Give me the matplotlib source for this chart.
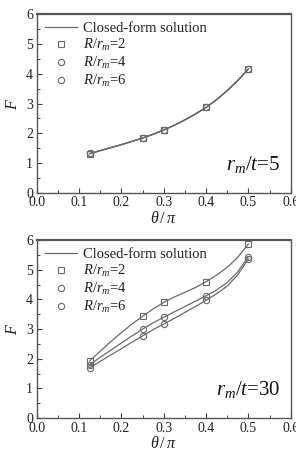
import matplotlib
matplotlib.use("Agg")
import matplotlib.pyplot as plt
from matplotlib.ticker import MultipleLocator

plt.rcParams['font.family'] = ['Liberation Serif', 'DejaVu Serif']
plt.rcParams['mathtext.fontset'] = 'custom'
plt.rcParams['mathtext.rm'] = 'Liberation Serif'
plt.rcParams['mathtext.it'] = 'Liberation Serif:italic'

# data points
theta = [0.125, 0.25, 0.3, 0.4, 0.5]
top_R2 = [1.32, 1.84, 2.11, 2.87, 4.16]
top_R4 = [1.33, 1.85, 2.12, 2.88, 4.15]
top_R6 = [1.33, 1.86, 2.12, 2.88, 4.15]
bot_R2 = [1.93, 3.43, 3.90, 4.60, 5.87]
bot_R4 = [1.80, 3.00, 3.40, 4.12, 5.44]
bot_R6 = [1.70, 2.77, 3.17, 3.97, 5.36]

# closed-form curves
theta_c = [0.125, 0.15, 0.175, 0.2, 0.225, 0.25, 0.275, 0.3, 0.325,
           0.35, 0.375, 0.4, 0.425, 0.45, 0.475, 0.5]
top_c = [1.32, 1.42, 1.52, 1.62, 1.73, 1.84, 1.97, 2.11, 2.27,
         2.45, 2.65, 2.87, 3.13, 3.43, 3.77, 4.16]
bot_c2 = [1.93, 2.25, 2.58, 2.88, 3.17, 3.43, 3.68, 3.90, 4.08,
          4.24, 4.40, 4.60, 4.82, 5.08, 5.42, 5.87]
bot_c4 = [1.80, 2.05, 2.29, 2.53, 2.77, 3.00, 3.21, 3.40, 3.58,
          3.76, 3.94, 4.12, 4.32, 4.57, 4.93, 5.44]
bot_c6 = [1.70, 1.91, 2.13, 2.34, 2.56, 2.77, 2.98, 3.17, 3.36,
          3.56, 3.76, 3.97, 4.19, 4.45, 4.83, 5.36]

xticks = [0.0, 0.1, 0.2, 0.3, 0.4, 0.5, 0.6]
yticks = [0, 1, 2, 3, 4, 5, 6]

fig = plt.figure(figsize=(2.96, 4.53), dpi=100)
ax1 = fig.add_axes([0.124, 0.574, 0.858, 0.395])
ax2 = fig.add_axes([0.124, 0.077, 0.858, 0.393])

gray = '#6a6a6a'
mk = dict(linestyle='none', markerfacecolor='none', markeredgecolor=gray,
          markersize=4.5, markeredgewidth=0.8)

def setup(ax, label):
    ax.set_xlim(0, 0.6)
    ax.set_ylim(0, 6)
    ax.set_xticks(xticks)
    ax.set_yticks(yticks)
    ax.set_xticklabels(['%.1f' % v for v in xticks])
    ax.xaxis.set_minor_locator(MultipleLocator(0.05))
    ax.yaxis.set_minor_locator(MultipleLocator(0.5))
    ax.tick_params(which='both', direction='in', color='#444444',
                   labelsize=10, labelcolor='#222222', pad=2.5)
    ax.tick_params(which='major', length=3.5, width=0.8)
    ax.tick_params(which='minor', length=2, width=0.7)
    for s in ax.spines.values():
        s.set_color('#555555')
        s.set_linewidth(1.0)
    ax.spines['top'].set_linewidth(1.6)
    ax.set_xlabel(r'$\theta\,/\,\pi$', fontsize=11.5, labelpad=1, color='#222222')
    ax.set_ylabel(r'$F$', fontsize=11.5, labelpad=4, color='#222222')
    ax.text(0.96, 0.13, label, transform=ax.transAxes, ha='right',
            va='baseline', fontsize=15, color='#111111')

for ax, c_list, pts in [
        (ax1, [top_c, top_c, top_c], [top_R2, top_R4, top_R6]),
        (ax2, [bot_c2, bot_c4, bot_c6], [bot_R2, bot_R4, bot_R6])]:
    setup(ax, r'$r_m$/$t$=5' if ax is ax1 else r'$r_m$/$t$=30')
    for i, c in enumerate(c_list):
        ax.plot(theta_c, c, color=gray, lw=0.9,
                label='Closed-form solution' if i == 0 else None)
    ax.plot(theta, pts[0], marker='s', label=r'$R/r_m$=2', **mk)
    ax.plot(theta, pts[1], marker='o', label=r'$R/r_m$=4', **mk)
    ax.plot(theta, pts[2], marker='o', label=r'$R/r_m$=6', **mk)
    leg = ax.legend(loc='upper left', frameon=False, fontsize=10.5,
                    handlelength=2.2, handletextpad=0.45, labelspacing=0.12,
                    borderaxespad=0.15, bbox_to_anchor=(0.0, 1.0))
    for t in leg.get_texts():
        t.set_color('#222222')

fig.savefig('out.png', dpi=100)
